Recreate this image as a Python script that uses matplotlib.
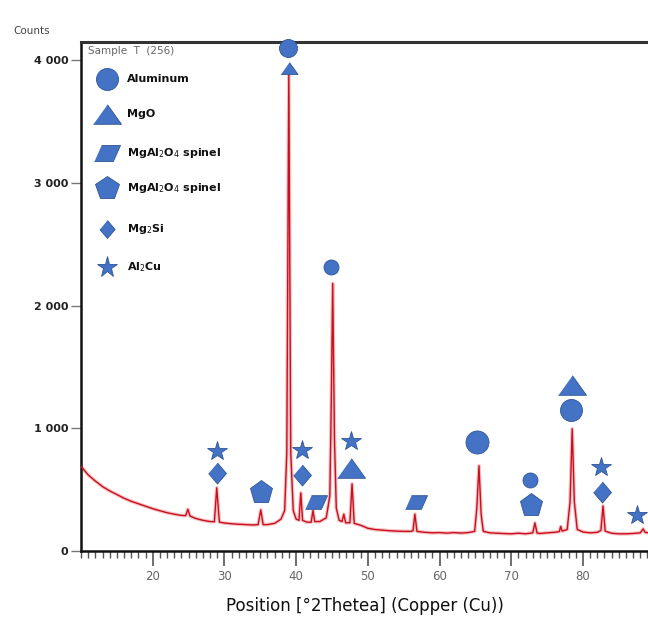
"""XRD pattern of sample T with phase markers (Al, MgO, spinel, Mg2Si, Al2Cu)."""
import matplotlib
matplotlib.use("Agg")
import matplotlib.pyplot as plt
from matplotlib.ticker import MultipleLocator, FixedLocator

BLUE = "#4472c4"
BLUE_EDGE = "#2f5597"
RED = "#c8101e"
PINK = "#f2a4a8"
INK = "#111111"
GREY = "#666666"

# diffraction trace: 2theta (deg) and counts
two_theta = [
    10.0, 11.0, 12.0, 13.0, 14.0, 15.0, 16.0, 17.0, 18.0, 19.0, 20.0, 21.0,
    22.0, 23.0, 24.0, 24.6, 24.9, 25.2, 26.0, 27.0, 28.0, 28.6, 28.93, 29.3,
    30.0, 31.0, 32.0, 33.0, 34.0, 34.7, 35.07, 35.4, 36.0, 37.0, 37.9, 38.4,
    38.7, 38.98, 39.25, 39.6, 40.0, 40.4, 40.65, 40.9, 41.5, 42.1, 42.35, 42.6,
    43.3, 44.2, 44.7, 44.9, 45.1, 45.35, 45.6, 46.0, 46.4, 46.65, 46.9, 47.5,
    47.8, 48.1, 49.0, 50.0, 51.0, 52.0, 53.0, 54.0, 55.0, 56.0, 56.3, 56.56,
    56.85, 57.5, 58.0, 59.0, 60.0, 61.0, 62.0, 63.0, 64.0, 64.9, 65.2, 65.5,
    65.8, 66.1, 67.0, 68.0, 69.0, 70.0, 71.0, 72.0, 73.0, 73.3, 73.6, 74.0,
    75.0, 76.0, 76.7, 76.9, 77.1, 77.8, 78.2, 78.5, 78.8, 79.2, 80.0, 81.0,
    82.0, 82.5, 82.8, 83.1, 84.0, 85.0, 86.0, 87.0, 88.0, 88.4, 88.7, 89.2,
]
counts = [
    690, 620, 570, 525, 490, 460, 430, 405, 385, 365, 345, 328,
    312, 300, 290, 288, 340, 285, 265, 250, 240, 238, 515, 235,
    228, 222, 218, 215, 212, 215, 335, 215, 215, 225, 260, 330,
    800, 3900, 800, 330, 260, 250, 473, 250, 235, 235, 330, 240,
    240, 270, 450, 1200, 2180, 900, 350, 250, 240, 300, 230, 230,
    547, 225, 210, 185, 175, 170, 165, 162, 160, 160, 165, 300,
    160, 155, 152, 148, 150, 146, 150, 146, 150, 160, 350, 694,
    300, 160, 148, 145, 142, 140, 145, 140, 148, 229, 146, 143,
    148, 152, 158, 200, 162, 175, 400, 996, 400, 175, 155, 148,
    152, 168, 367, 162, 145, 140, 140, 143, 148, 180, 150, 150,
]

# phase markers placed above the peaks: (2theta, counts)
al_x = [38.84, 44.84, 65.2, 72.6, 78.3]
al_y = [4098, 2310, 890, 580, 1151]
mgo_x = [38.98, 47.63, 78.5]
mgo_y = [3935, 676, 1355]
spinel_par_x = [42.74, 56.7]
spinel_par_y = [400, 400]
spinel_pent_x = [35.07, 72.7]
spinel_pent_y = [482, 376]
mg2si_x = [28.93, 40.8, 82.6]
mg2si_y = [637, 620, 482]
al2cu_x = [28.93, 40.8, 47.63, 82.5, 87.5]
al2cu_y = [816, 824, 898, 686, 294]

legend_labels = ["Aluminum", "MgO", r"MgAl$_2$O$_4$ spinel",
                 r"MgAl$_2$O$_4$ spinel", r"Mg$_2$Si", r"Al$_2$Cu"]

TRI = [(-1, -0.7), (1, -0.7), (0, 0.7)]
PAR = [(-1, -0.62), (0.45, -0.62), (1, 0.62), (-0.45, 0.62)]
DIA = [(0, 1), (0.85, 0), (0, -1), (-0.85, 0)]


def px(p):
    # marker size in points from pixel size at dpi 100
    return p * 0.72


fig = plt.figure(figsize=(6.48, 6.2), dpi=100)
fig.patch.set_facecolor("white")
ax = fig.add_axes([81 / 648, 1 - 551 / 620, 1 - 81 / 648, (551 - 42) / 620])

ax.plot(two_theta, counts, color=PINK, linewidth=2.6, alpha=0.7, zorder=2)
ax.plot(two_theta, counts, color=RED, linewidth=1.0, zorder=3)

mk = dict(color=BLUE, markeredgecolor=BLUE_EDGE, markeredgewidth=0.6,
          linestyle="none", zorder=5, clip_on=False)
al_sizes = [18, 15, 23, 15, 22]
for x, y, s in zip(al_x, al_y, al_sizes):
    ax.plot(x, y, marker="o", markersize=px(s), **mk)
mgo_sizes = [17, 28, 28]
for x, y, s in zip(mgo_x, mgo_y, mgo_sizes):
    ax.plot(x, y, marker=TRI, markersize=px(s), **mk)
ax.plot(spinel_par_x, spinel_par_y, marker=PAR, markersize=px(22), **mk)
ax.plot(spinel_pent_x, spinel_pent_y, marker="p", markersize=px(24), **mk)
ax.plot(mg2si_x, mg2si_y, marker=DIA, markersize=px(21), **mk)
ax.plot(al2cu_x, al2cu_y, marker="*", markersize=px(21), **mk)

# legend drawn by hand in the upper-left corner
ax.text(7 / 567, 1 - 9 / 509, "Sample  T  (256)", transform=ax.transAxes,
        ha="left", va="center", fontsize=7.5, color=GREY)
leg_markers = [("o", 22), (TRI, 28), (PAR, 26), ("p", 25), (DIA, 18), ("*", 22)]
leg_y = [79, 114, 153, 188, 229, 267]
for (m, s), yy, lab in zip(leg_markers, leg_y, legend_labels):
    yf = 1 - (yy - 42) / 509
    ax.plot(26 / 567, yf, marker=m, markersize=px(s), transform=ax.transAxes,
            color=BLUE, markeredgecolor=BLUE_EDGE, markeredgewidth=0.6,
            linestyle="none", zorder=6)
    ax.text(46 / 567, yf, lab, transform=ax.transAxes, ha="left", va="center",
            fontsize=8, fontweight="bold", color=INK)

ax.set_xlim(10, 89.07)
ax.set_ylim(0, 4147)
ax.xaxis.set_major_locator(FixedLocator([20, 30, 40, 50, 60, 70, 80]))
ax.xaxis.set_minor_locator(MultipleLocator(1))
ax.set_yticks([0, 1000, 2000, 3000, 4000])
ax.set_yticklabels(["0", "1 000", "2 000", "3 000", "4 000"],
                   fontsize=8, fontweight="bold", color="#222222")
ax.tick_params(axis="x", which="major", length=11, width=1.2, color="#555555",
               labelsize=8.5, labelcolor=GREY, pad=3)
ax.tick_params(axis="x", which="minor", length=5, width=1.0, color="#555555")
ax.tick_params(axis="y", which="major", length=7, width=1.0, color="#777777", pad=2)

for s in ["left", "bottom"]:
    ax.spines[s].set_linewidth(1.8)
    ax.spines[s].set_color("#111111")
ax.spines["top"].set_linewidth(2.2)
ax.spines["top"].set_color("#333333")
ax.spines["right"].set_visible(False)

ax.set_xlabel("Position [°2Thetea] (Copper (Cu))", fontsize=12, color=INK, labelpad=10)
fig.text(13 / 648, 1 - 31 / 620, "Counts", ha="left", va="center",
         fontsize=7.5, color="#444444")

fig.savefig("out.png", dpi=100, facecolor="white")
